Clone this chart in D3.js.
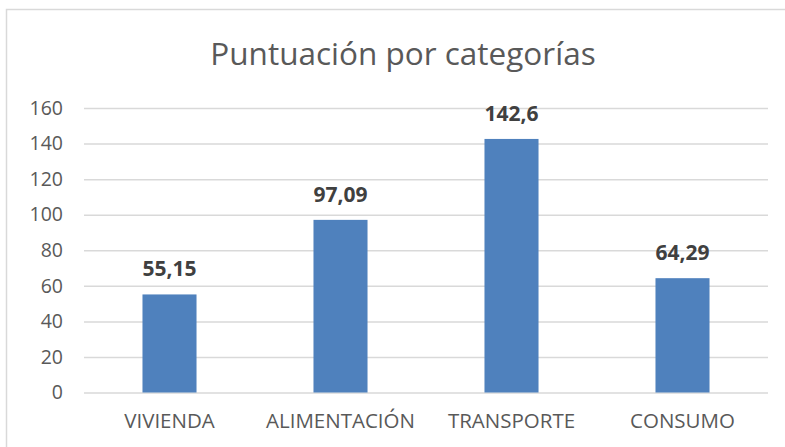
<!DOCTYPE html>
<html><head><meta charset="utf-8">
<script src="https://cdn.jsdelivr.net/npm/d3@7"></script>
<style>body{margin:0;background:#fff}svg{display:block}</style>
</head><body>
<svg id="c" width="785" height="447"></svg>
<script>
const categories = ["VIVIENDA", "ALIMENTACIÓN", "TRANSPORTE", "CONSUMO"];
const values = [55.15, 97.09, 142.6, 64.29];
const valueLabels = ["55,15", "97,09", "142,6", "64,29"];
const yTicks = [0, 20, 40, 60, 80, 100, 120, 140, 160];
const title = "Puntuación por categorías";

const svg = d3.select("#c");
const m = {left: 84, right: 17, top: 108, bottom: 54.5};
const W = 785, H = 447;
const font = "'Open Sans', 'Liberation Sans', sans-serif";

svg.append("rect").attr("x", 6.5).attr("y", 9.5).attr("width", 800).attr("height", 500)
  .attr("fill", "#fff").attr("stroke", "#d9d9d9").attr("stroke-width", 1.5);

const x = d3.scaleBand().domain(categories).range([m.left, W - m.right]).paddingInner(0.684).paddingOuter(0.342);
const y = d3.scaleLinear().domain([0, 160]).range([H - m.bottom, m.top]);

const gy = svg.append("g").attr("transform", `translate(${m.left},0)`)
  .call(d3.axisLeft(y).tickValues(yTicks).tickSize(-(W - m.left - m.right)).tickPadding(21));
gy.select(".domain").remove();
gy.selectAll(".tick line").attr("stroke", "#d9d9d9").attr("stroke-width", 1.5);
gy.selectAll(".tick text").attr("fill", "#595959").style("font-family", font).style("font-size", "19.5px");

svg.append("g").selectAll("rect").data(values).join("rect")
  .attr("x", (d, i) => x(categories[i]))
  .attr("y", d => y(d))
  .attr("width", x.bandwidth())
  .attr("height", d => y(0) - y(d))
  .attr("fill", "#4f81bd");

svg.append("g").selectAll("text").data(values).join("text")
  .attr("x", (d, i) => x(categories[i]) + x.bandwidth() / 2)
  .attr("y", d => y(d) - 18)
  .attr("text-anchor", "middle")
  .attr("fill", "#404040")
  .style("font-family", font).style("font-size", "21px").style("font-weight", "bold")
  .text((d, i) => valueLabels[i]);

const gx = svg.append("g").attr("transform", `translate(0,${H - m.bottom})`)
  .call(d3.axisBottom(x).tickSize(0).tickPadding(21));
gx.select(".domain").remove();
gx.selectAll(".tick text").attr("fill", "#595959").style("font-family", font).style("font-size", "20.5px");

svg.append("text").attr("x", 403).attr("y", 65).attr("text-anchor", "middle")
  .attr("fill", "#595959").style("font-family", font).style("font-size", "31.5px")
  .text(title);
</script>
</body></html>
